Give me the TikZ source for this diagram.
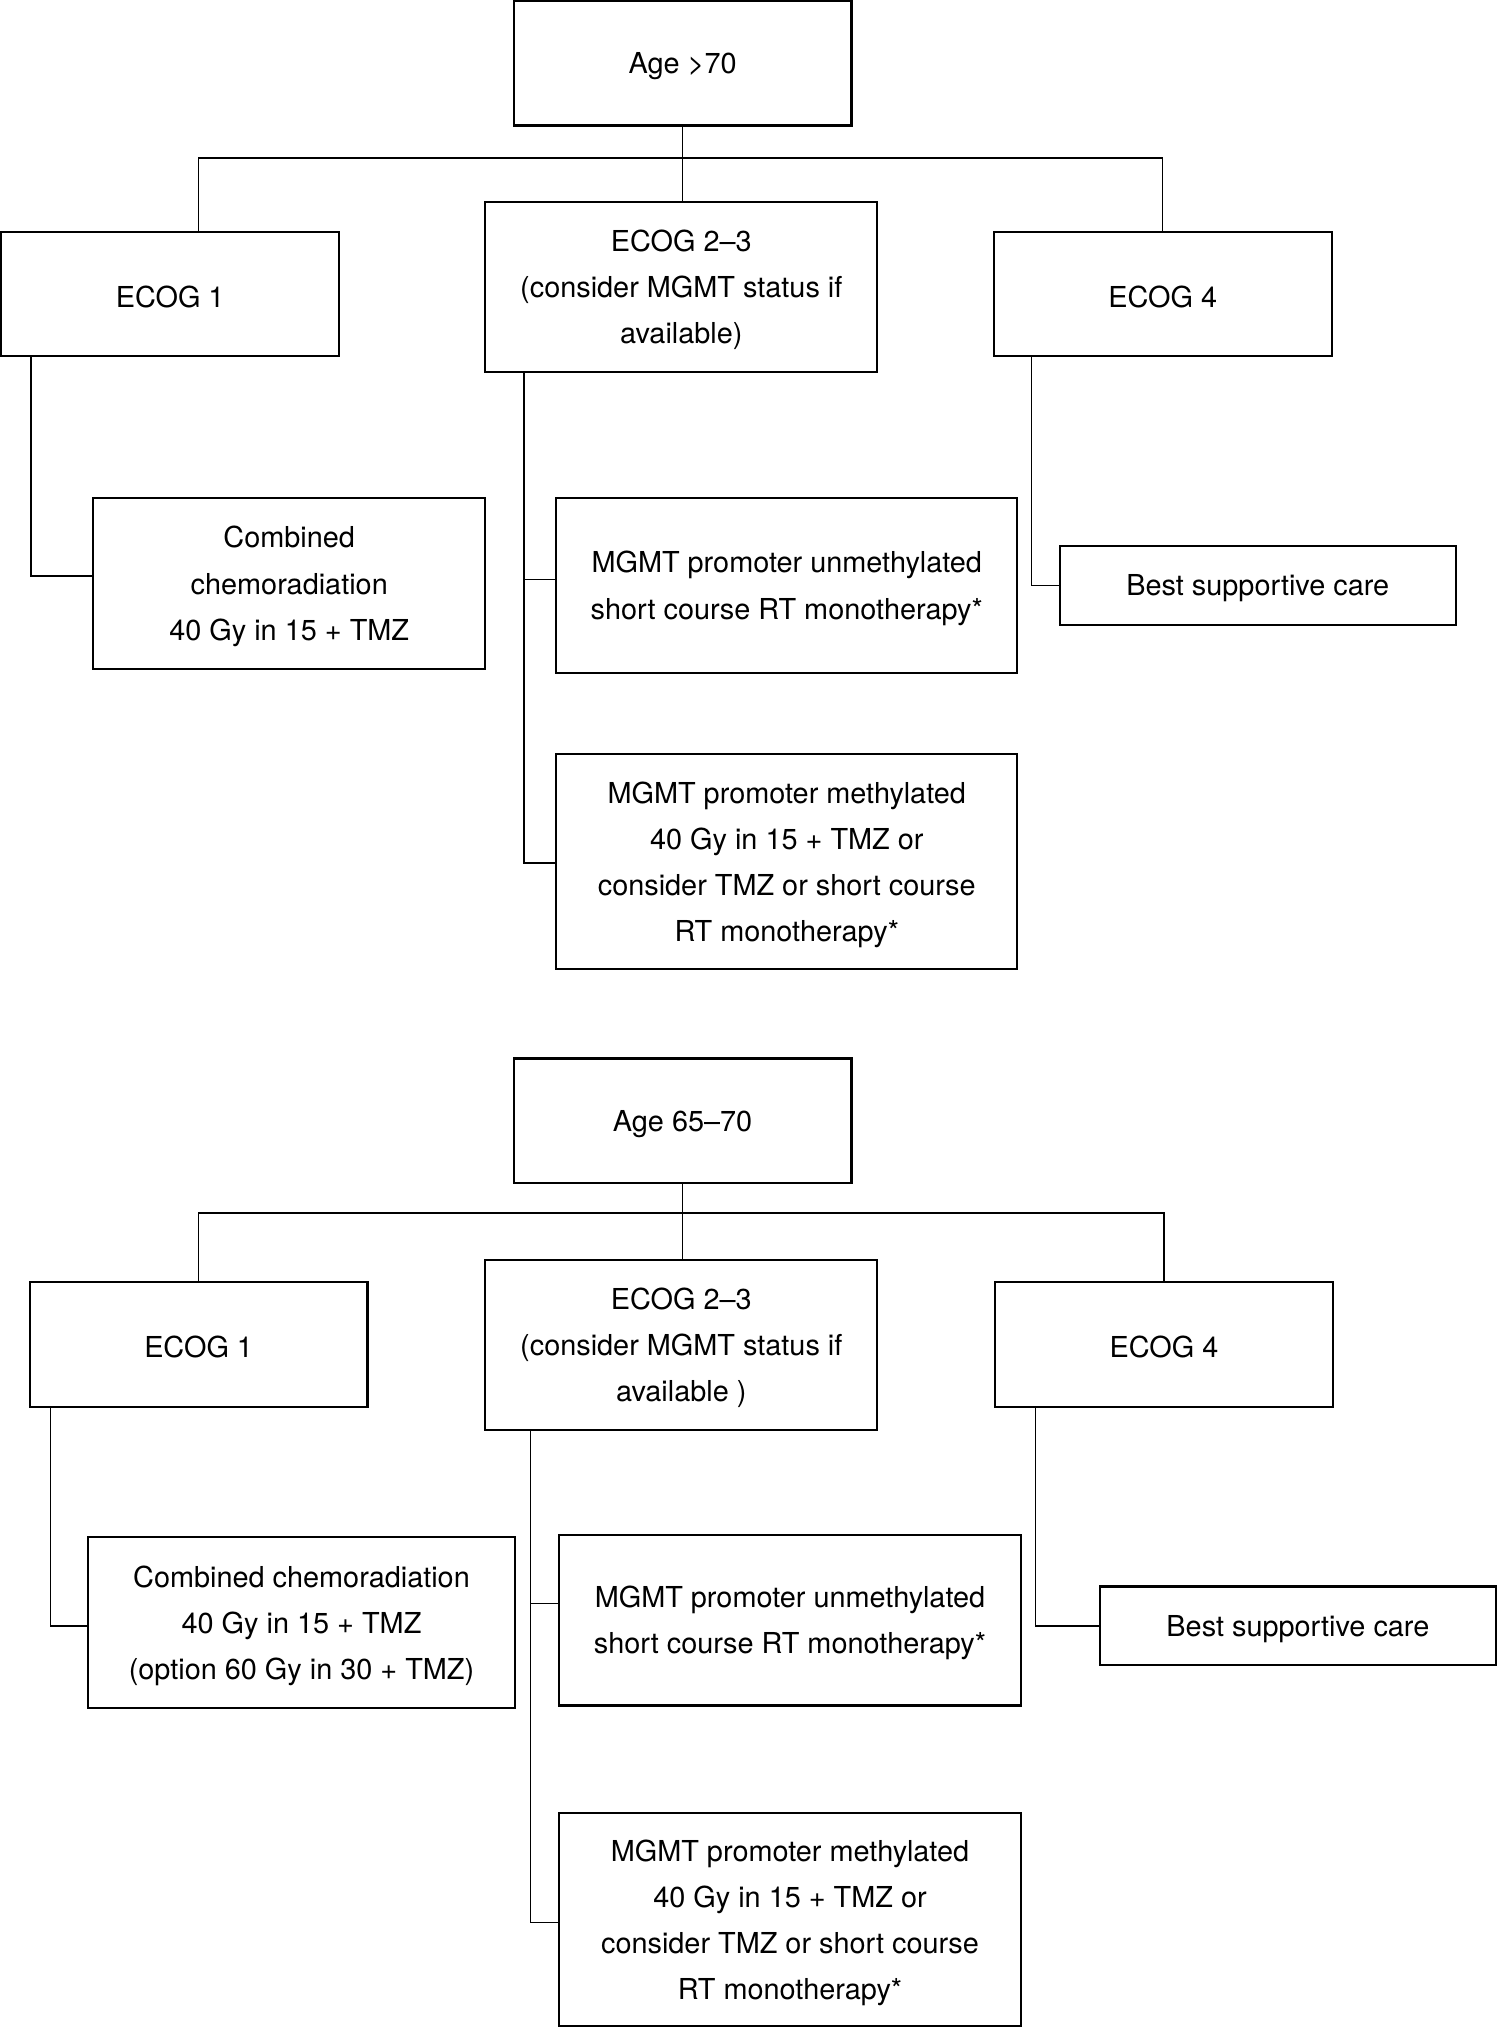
\documentclass[tikz,border=0pt]{standalone}
\usepackage{fontspec}
\setmainfont{TeX Gyre Heros}
\newcommand\tp{\rule{0pt}{10.5pt}}
\begin{document}
\begin{tikzpicture}[x=0.5pt,y=-0.5pt,
  box/.style={draw, line width=0.8pt, inner sep=0pt, align=center,
    font=\fontsize{11.15}{17.8}\selectfont},
  conn/.style={line width=0.55pt}]
\useasboundingbox (0,0) rectangle (1157,1568);
% ---------- top tree ----------
\node[box, minimum width=130.5pt, minimum height=48pt] (age1) at (527.5,49) {\tp Age >70};
\node[box, minimum width=130.5pt, minimum height=48pt] (e1a) at (131.5,227) {\tp ECOG 1};
\node[box, minimum width=151.5pt, minimum height=65.75pt] (e23a) at (526.5,221.75) {\tp ECOG 2–3\\(consider MGMT status if\\available)};
\node[box, minimum width=130.5pt, minimum height=48pt] (e4a) at (898.5,227) {\tp ECOG 4};
\node[box, minimum width=151.5pt, minimum height=66pt] (comb1) at (223.5,451) {\tp Combined\\chemoradiation\\40 Gy in 15 + TMZ};
\node[box, minimum width=178pt, minimum height=67.5pt] (unm1) at (608,452.5) {\tp MGMT promoter unmethylated\\short course RT monotherapy*};
\node[box, minimum width=178pt, minimum height=83pt] (met1) at (608,666) {\tp MGMT promoter methylated\\40 Gy in 15 + TMZ or\\consider TMZ or short course\\RT monotherapy*};
\node[box, minimum width=153pt, minimum height=30.5pt] (bsc1) at (972,452.5) {\tp Best supportive care};
\coordinate (ta1) at (153.5,122);
\coordinate (la1) at (24,445);
\coordinate (ma1) at (405,448);
\coordinate (mb1) at (405,667);
\coordinate (ra1) at (797,452.5);
\draw[conn] (age1.south) -- (age1.south |- e23a.north);
\draw[conn] (ta1 |- e1a.north) -- (ta1) -- (ta1 -| e4a.north) -- (e4a.north);
\draw[conn] (la1 |- e1a.south) -- (la1) -- (la1 -| comb1.west);
\draw[conn] (ma1 |- e23a.south) -- (mb1) -- (mb1 -| met1.west);
\draw[conn] (ma1) -- (ma1 -| unm1.west);
\draw[conn] (ra1 |- e4a.south) -- (ra1) -- (ra1 -| bsc1.west);
% ---------- bottom tree ----------
\node[box, minimum width=130.5pt, minimum height=48pt] (age2) at (527.5,866) {\tp Age 65–70};
\node[box, minimum width=130.5pt, minimum height=48pt] (e1b) at (153.5,1039) {\tp ECOG 1};
\node[box, minimum width=151.5pt, minimum height=65.5pt] (e23b) at (526.5,1039.5) {\tp ECOG 2–3\\(consider MGMT status if\\available )};
\node[box, minimum width=130.5pt, minimum height=48pt] (e4b) at (899.5,1039) {\tp ECOG 4};
\node[box, minimum width=165pt, minimum height=66pt] (comb2) at (233,1254) {\tp Combined chemoradiation\\40 Gy in 15 + TMZ\\(option 60 Gy in 30 + TMZ)};
\node[box, minimum width=178.5pt, minimum height=66pt] (unm2) at (610.5,1252) {\tp MGMT promoter unmethylated\\short course RT monotherapy*};
\node[box, minimum width=178.5pt, minimum height=82.5pt] (met2) at (610.5,1483.5) {\tp MGMT promoter methylated\\40 Gy in 15 + TMZ or\\consider TMZ or short course\\RT monotherapy*};
\node[box, minimum width=153pt, minimum height=30.5pt] (bsc2) at (1003,1256.5) {\tp Best supportive care};
\coordinate (tb1) at (153.5,937.5);
\coordinate (lb1) at (39,1256.5);
\coordinate (mab) at (410,1239);
\coordinate (mbb) at (410,1485.5);
\coordinate (rb1) at (800,1256.5);
\draw[conn] (age2.south) -- (age2.south |- e23b.north);
\draw[conn] (e1b.north) -- (tb1) -- (tb1 -| e4b.north) -- (e4b.north);
\draw[conn] (lb1 |- e1b.south) -- (lb1) -- (lb1 -| comb2.west);
\draw[conn] (mab |- e23b.south) -- (mbb) -- (mbb -| met2.west);
\draw[conn] (mab) -- (mab -| unm2.west);
\draw[conn] (rb1 |- e4b.south) -- (rb1) -- (rb1 -| bsc2.west);
\end{tikzpicture}
\end{document}
